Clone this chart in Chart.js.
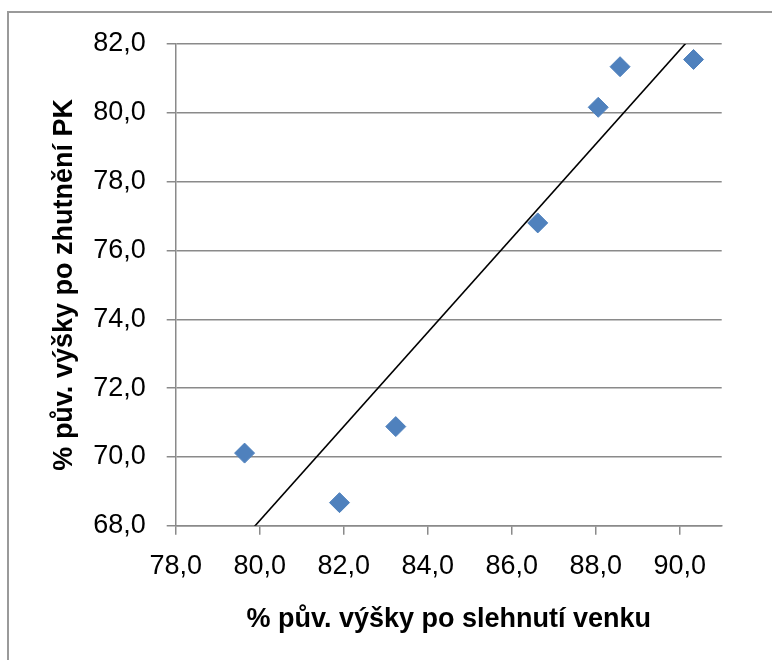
<!DOCTYPE html>
<html>
<head>
<meta charset="utf-8">
<script src="https://cdn.jsdelivr.net/npm/chart.js@4/dist/chart.umd.min.js"></script>
<style>
  html, body { margin: 0; padding: 0; background: #fff; overflow: hidden; }
  #frame { position: absolute; left: 7px; top: 11px; width: 900px; height: 900px; border: 2px solid #9a9a9a; }
  #myChart { position: absolute; left: 0; top: 0; }
</style>
</head>
<body>
<div id="frame"></div>
<canvas id="myChart" width="772" height="660"></canvas>
<script>
'use strict';
// % of original height after settling outdoors (x) vs after compaction (y)
let outdoorPct = [79.64, 81.90, 83.24, 86.62, 88.06, 88.58, 90.33];
let compactedPct = [70.11, 68.67, 70.88, 76.80, 80.16, 81.34, 81.55];
let xTitle = '% pův. výšky po slehnutí venku';
let yTitle = '% pův. výšky po zhutnění PK';

let points = outdoorPct.map((x, i) => ({ x: x, y: compactedPct[i] }));

// linear trendline (least squares), like Excel's
let n = outdoorPct.length;
let mx = outdoorPct.reduce((a, b) => a + b, 0) / n;
let my = compactedPct.reduce((a, b) => a + b, 0) / n;
let sxy = 0, sxx = 0;
outdoorPct.forEach((x, i) => { sxy += (x - mx) * (compactedPct[i] - my); sxx += (x - mx) * (x - mx); });
let slope = sxy / sxx;
let icpt = my - slope * mx;
let xLo = Math.min(...outdoorPct), xHi = Math.max(...outdoorPct);
let trend = [{ x: xLo, y: icpt + slope * xLo }, { x: xHi, y: icpt + slope * xHi }];

const gridColor = '#8a8a8a';
const fmt = v => v.toFixed(1).replace('.', ',');
const tickFont = { family: 'Liberation Sans', size: 27 };
const titleFont = { family: 'Liberation Sans', size: 27, weight: 'bold' };

var ctx = document.getElementById('myChart').getContext('2d');
var myChart = new Chart(ctx, {
  type: 'scatter',
  data: {
    datasets: [{
      type: 'line',
      label: 'trend',
      data: trend,
      borderColor: '#000000',
      borderWidth: 1.6,
      pointRadius: 0,
      fill: false,
      clip: 0,
      order: 0
    }, {
      label: 'data',
      data: points,
      pointStyle: 'rectRot',
      pointRadius: 10,
      pointHoverRadius: 10,
      backgroundColor: '#4f81bd',
      borderColor: '#4f81bd',
      borderWidth: 1,
      order: 1
    }]
  },
  options: {
    responsive: false,
    animation: false,
    layout: { padding: { left: 0, top: 44, right: 50.3, bottom: 0 } },
    plugins: { legend: { display: false }, tooltip: { enabled: false } },
    scales: {
      x: {
        type: 'linear',
        min: 78,
        max: 91,
        afterFit: s => { s.height = 134.3; },
        ticks: { stepSize: 2, includeBounds: false, padding: 16, color: '#000', font: tickFont, callback: fmt, maxRotation: 0 },
        grid: { drawOnChartArea: false, drawTicks: true, tickLength: 9, color: gridColor, lineWidth: 1.5 },
        border: { display: true, color: gridColor, width: 1.5 },
        title: { display: true, text: xTitle, color: '#000', font: titleFont, padding: { top: 0, bottom: 24 } }
      },
      y: {
        type: 'linear',
        min: 68,
        max: 82,
        afterFit: s => { s.width = 175.7; },
        ticks: { stepSize: 2, padding: 21, color: '#000', font: tickFont, callback: fmt },
        grid: { drawTicks: true, tickLength: 9, color: gridColor, lineWidth: 1.5 },
        border: { display: true, color: gridColor, width: 1.5 },
        title: { display: true, text: yTitle, color: '#000', font: titleFont, padding: { top: 48, bottom: 0 } }
      }
    }
  }
});
</script>
</body>
</html>
